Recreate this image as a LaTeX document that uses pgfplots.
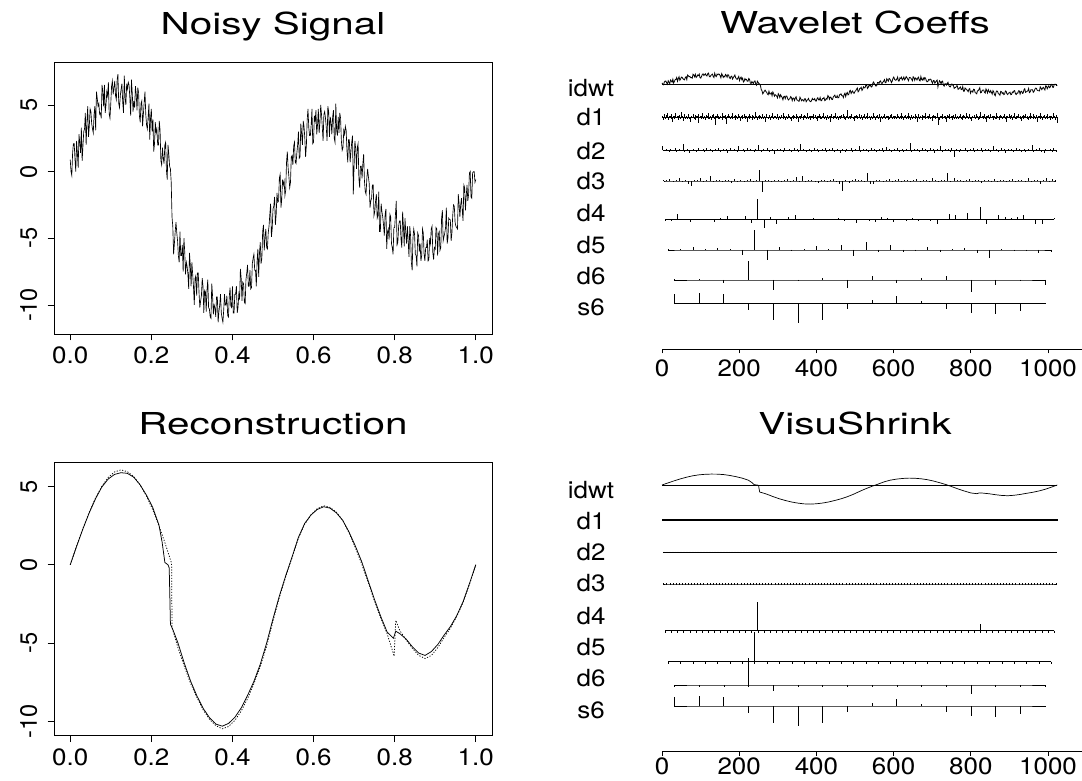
\documentclass[border=0pt]{standalone}
\usepackage{fontspec}
\usepackage{pgfplots}
\usepackage{pgfplotstable}
\pgfplotsset{compat=1.18}
\newfontfamily\stretchsans[FakeStretch=1.1]{TeX Gyre Heros}
\newfontfamily\plainsans{TeX Gyre Heros}
\newfontfamily\titlesans[FakeStretch=1.34]{TeX Gyre Heros}
\newcommand\tickfont{\stretchsans\fontsize{23.6}{28}\selectfont}
\newcommand\ytickfont{\plainsans\fontsize{23.6}{28}\selectfont}
\newcommand\titlefont{\titlesans\fontsize{30.2}{36}\selectfont}
\setmainfont{TeX Gyre Heros}

% noisy signal, 511 samples on [0,1]
\pgfplotstableread[row sep=\\]{v\\
0.9\\0.0\\-0.3\\1.4\\2.1\\2.1\\0.9\\0.0\\2.3\\1.4\\0.3\\2.8\\2.2\\1.4\\3.3\\0.8\\1.9\\3.0\\3.2\\4.4\\2.0\\3.7\\4.9\\2.6\\3.4\\4.7\\4.5\\3.6\\3.2\\2.9\\4.3\\4.9\\
3.1\\6.0\\5.5\\4.9\\5.1\\4.3\\4.4\\4.0\\6.5\\6.0\\4.9\\6.5\\4.4\\5.0\\6.0\\5.7\\6.7\\4.3\\4.0\\5.1\\6.4\\6.8\\5.8\\6.3\\6.8\\5.7\\5.4\\6.9\\7.3\\5.1\\4.8\\5.7\\
6.2\\6.6\\5.2\\4.4\\7.2\\5.5\\5.0\\6.6\\6.2\\6.7\\6.5\\5.5\\4.2\\6.9\\5.9\\4.5\\5.3\\4.8\\6.4\\5.8\\4.6\\6.3\\5.9\\4.2\\3.7\\5.1\\5.3\\3.4\\4.3\\5.2\\6.0\\4.3\\
3.5\\3.2\\4.1\\5.1\\2.4\\4.0\\4.7\\3.0\\3.9\\1.5\\2.1\\3.7\\2.9\\3.2\\2.0\\2.0\\3.8\\3.1\\0.8\\0.5\\1.8\\1.0\\0.6\\2.0\\2.2\\0.1\\-0.6\\2.0\\1.3\\0.4\\0.2\\-0.8\\
-3.4\\-4.1\\-6.2\\-5.4\\-4.5\\-3.8\\-4.6\\-5.2\\-6.3\\-6.8\\-4.5\\-6.3\\-6.3\\-5.5\\-7.5\\-5.0\\-6.0\\-7.7\\-6.8\\-7.1\\-7.7\\-8.8\\-6.1\\-7.0\\-8.6\\-6.8\\-7.7\\-8.6\\-10.0\\-8.0\\-7.8\\-9.3\\
-7.6\\-7.6\\-9.1\\-10.2\\-9.7\\-9.3\\-8.0\\-8.6\\-10.6\\-8.9\\-9.0\\-10.5\\-8.9\\-8.1\\-10.2\\-10.3\\-10.9\\-11.0\\-8.4\\-9.3\\-10.7\\-10.0\\-10.2\\-10.9\\-9.4\\-9.4\\-11.3\\-10.5\\-10.0\\-9.2\\-10.6\\-11.0\\
-11.3\\-10.4\\-9.2\\-10.0\\-10.0\\-9.3\\-10.8\\-10.9\\-9.4\\-8.7\\-10.1\\-10.2\\-8.6\\-10.6\\-10.6\\-9.2\\-9.2\\-8.6\\-10.6\\-10.2\\-9.2\\-9.6\\-7.3\\-8.0\\-9.7\\-8.3\\-8.4\\-9.8\\-9.9\\-8.1\\-7.6\\-7.0\\
-8.6\\-8.6\\-7.4\\-8.8\\-8.7\\-6.9\\-6.5\\-6.2\\-7.4\\-7.4\\-8.6\\-6.7\\-5.8\\-7.9\\-6.1\\-5.3\\-6.9\\-6.5\\-4.5\\-4.0\\-5.9\\-4.9\\-4.3\\-5.7\\-5.8\\-4.6\\-4.1\\-3.2\\-2.4\\-4.9\\-4.3\\-2.8\\
-2.6\\-1.9\\-4.0\\-3.2\\-1.6\\-2.3\\-2.2\\-0.5\\-0.2\\-2.7\\-2.1\\-0.6\\-1.0\\-0.7\\-1.8\\-1.4\\0.7\\1.5\\0.3\\-0.4\\-1.2\\-0.8\\1.1\\1.2\\0.5\\1.9\\2.2\\0.7\\0.6\\1.4\\2.0\\3.0\\
1.0\\1.1\\3.6\\2.8\\2.0\\3.8\\3.4\\2.5\\1.1\\2.0\\3.9\\4.7\\3.3\\2.7\\2.7\\3.5\\4.7\\2.1\\2.2\\4.2\\3.8\\4.6\\2.8\\3.5\\4.7\\2.9\\3.6\\5.0\\4.3\\3.3\\2.3\\4.3\\
4.5\\4.0\\3.3\\2.3\\4.9\\4.5\\2.6\\4.1\\3.7\\2.8\\4.1\\4.6\\2.5\\2.2\\5.1\\3.1\\2.7\\4.1\\2.9\\4.4\\4.0\\2.3\\1.6\\1.8\\3.1\\2.8\\3.4\\3.1\\1.6\\0.7\\2.4\\2.4\\
0.7\\1.5\\2.2\\2.7\\-1.7\\0.5\\2.3\\1.7\\0.2\\1.8\\2.1\\-0.5\\-1.2\\0.4\\0.4\\-0.5\\0.6\\1.3\\-0.7\\-1.5\\-1.7\\-0.5\\0.2\\-0.4\\-0.9\\-2.7\\-2.2\\-2.0\\-1.0\\-1.0\\-3.3\\-3.0\\
-2.2\\-1.7\\-3.5\\-3.3\\-1.5\\-4.5\\-4.5\\-2.4\\-3.0\\-3.4\\-4.0\\-4.8\\-3.2\\-2.8\\-5.8\\-4.5\\-4.3\\-5.1\\-3.2\\-3.4\\-5.4\\-5.7\\-6.2\\-4.2\\-4.2\\-3.2\\-2.2\\-5.5\\-5.3\\-4.1\\-3.7\\-3.7\\
-5.1\\-5.7\\-3.0\\-4.1\\-5.6\\-3.5\\-4.6\\-5.4\\-4.1\\-5.2\\-6.4\\-4.1\\-4.8\\-6.8\\-7.4\\-5.0\\-4.3\\-4.7\\-6.2\\-6.3\\-7.1\\-4.6\\-4.8\\-6.0\\-5.4\\-6.7\\-6.3\\-4.3\\-4.6\\-6.2\\-6.7\\-5.7\\
-5.7\\-5.1\\-6.7\\-6.6\\-5.0\\-5.4\\-4.3\\-4.1\\-6.1\\-6.6\\-5.7\\-5.8\\-4.2\\-4.3\\-6.3\\-4.7\\-4.5\\-5.9\\-5.7\\-3.5\\-2.9\\-5.2\\-4.9\\-4.6\\-4.2\\-2.7\\-5.4\\-5.0\\-3.5\\-3.6\\-3.6\\-5.2\\
-4.6\\-3.3\\-2.5\\-2.6\\-3.8\\-4.1\\-4.2\\-4.3\\-1.7\\-2.4\\-3.4\\-2.5\\-2.0\\-2.9\\-3.7\\-1.0\\-1.2\\-2.9\\-1.8\\-1.0\\-2.2\\-1.7\\-0.1\\0.0\\-1.9\\-2.0\\-0.1\\0.0\\0.0\\-0.8\\-0.6\\
}\noisy

\pgfplotstableread[row sep=\\]{t y\\
0 0\\ 0.0156 1.17\\ 0.0313 2.30\\ 0.0469 3.33\\ 0.0625 4.24\\ 0.0781 4.99\\ 0.0938 5.50\\ 0.1094 5.79\\
0.125 5.90\\ 0.1406 5.86\\ 0.1563 5.62\\ 0.1719 5.14\\ 0.1875 4.48\\ 0.2031 3.70\\ 0.2188 2.55\\ 0.2266 1.45\\
0.2334 0.15\\ 0.2412 0.0\\ 0.2441 -0.2\\ 0.2471 -3.8\\ 0.2539 -4.2\\ 0.2656 -5.0\\ 0.2813 -6.3\\ 0.2969 -7.45\\
0.3125 -8.4\\ 0.3281 -9.2\\ 0.3438 -9.8\\ 0.3594 -10.2\\ 0.375 -10.33\\ 0.3906 -10.15\\ 0.4063 -9.75\\ 0.4219 -9.15\\
0.4375 -8.35\\ 0.4531 -7.45\\ 0.4688 -6.35\\ 0.4844 -5.0\\ 0.5 -3.45\\ 0.5156 -2.0\\ 0.5313 -0.7\\ 0.5469 0.5\\
0.5625 1.75\\ 0.5781 2.65\\ 0.5938 3.2\\ 0.6094 3.55\\ 0.625 3.72\\ 0.6406 3.63\\ 0.6563 3.33\\ 0.6719 2.85\\
0.6875 2.1\\ 0.7031 1.2\\ 0.7188 0.2\\ 0.7344 -1.0\\ 0.75 -2.2\\ 0.7656 -3.3\\ 0.7813 -4.3\\ 0.7969 -4.7\\
0.8027 -4.25\\ 0.8125 -4.4\\ 0.8281 -4.75\\ 0.8438 -5.25\\ 0.8594 -5.65\\ 0.875 -5.8\\ 0.8906 -5.55\\ 0.9063 -5.1\\
0.9219 -4.5\\ 0.9375 -3.95\\ 0.9531 -3.25\\ 0.9688 -2.35\\ 0.9844 -1.2\\ 1 0\\
}\recon

\pgfplotstableread[row sep=\\]{t y\\
0 0\\ 0.0156 1.2\\ 0.0313 2.33\\ 0.0469 3.37\\ 0.0625 4.28\\ 0.0781 5.03\\ 0.0938 5.6\\ 0.1094 5.95\\
0.125 6.08\\ 0.1406 5.97\\ 0.1563 5.66\\ 0.1719 5.14\\ 0.1875 4.43\\ 0.2031 3.55\\ 0.2188 2.5\\ 0.2344 1.35\\
0.2461 0.4\\ 0.25 0.1\\ 0.251 -4.0\\ 0.2656 -5.3\\ 0.2813 -6.5\\ 0.2969 -7.6\\ 0.3125 -8.5\\ 0.3281 -9.3\\
0.3438 -9.9\\ 0.3594 -10.3\\ 0.375 -10.5\\ 0.3906 -10.35\\ 0.4063 -9.95\\ 0.4219 -9.35\\ 0.4375 -8.55\\ 0.4531 -7.6\\
0.4688 -6.5\\ 0.4844 -5.2\\ 0.5 -3.6\\ 0.5156 -2.1\\ 0.5313 -0.75\\ 0.5469 0.45\\ 0.5625 1.7\\ 0.5781 2.6\\
0.5938 3.2\\ 0.6094 3.6\\ 0.625 3.78\\ 0.6406 3.68\\ 0.6563 3.37\\ 0.6719 2.85\\ 0.6875 2.05\\ 0.7031 1.1\\
0.7188 0.05\\ 0.7344 -1.1\\ 0.75 -2.3\\ 0.7656 -3.4\\ 0.7813 -4.4\\ 0.7988 -5.85\\ 0.8027 -3.55\\ 0.8125 -4.2\\
0.8281 -4.8\\ 0.8438 -5.35\\ 0.8594 -5.8\\ 0.875 -6.0\\ 0.8906 -5.8\\ 0.9063 -5.3\\ 0.9219 -4.65\\ 0.9375 -4.05\\
0.9531 -3.3\\ 0.9688 -2.4\\ 0.9844 -1.25\\ 1 0\\
}\truesig

% wavelet coefficients (heights in pixels of the top-right panel)
\pgfplotstableread[row sep=\\]{v\\
1\\-2\\0.5\\2\\-1\\1.5\\-0.5\\3\\-2\\1\\0.5\\-1.5\\2\\-3\\1\\0.5\\-1\\2.5\\-0.5\\1\\-2\\0.5\\1.5\\-1\\3.5\\-0.5\\1\\-2.5\\0.5\\2\\-1\\1\\-1.5\\0.5\\2\\-1\\-3\\1\\0.5\\-0.5\\2\\-1\\1.5\\-2\\0.5\\1\\-4\\2\\-0.5\\1\\-1\\0.5\\2.5\\-1.5\\1\\-0.5\\-2\\1.5\\0.5\\-1\\3\\-1\\0.5\\-2\\
1.5\\-0.5\\2\\-1\\0.5\\-5\\1\\2\\-1.5\\0.5\\-1\\1\\-0.5\\2.5\\-2\\0.5\\1\\-1\\1.5\\-4.5\\0.5\\2\\-0.5\\1\\-1.5\\0.5\\3\\-1\\-0.5\\1\\-2\\1.5\\0.5\\-1\\2\\-0.5\\1\\-2.5\\0.5\\1.5\\-1\\-0.5\\2\\-1.5\\1\\0.5\\-3\\1\\2\\-1\\0.5\\-0.5\\1.5\\-2\\1\\-1\\3.5\\-0.5\\0.5\\-2\\1\\1.5\\-1\\0.5\\
-1.5\\2\\0.5\\-1\\1\\-3.5\\0.5\\2\\-0.5\\-1\\1.5\\0.5\\-2\\1\\-0.5\\2.5\\-1\\0.5\\1\\-1.5\\-0.5\\2\\-2\\1\\0.5\\-1\\1.5\\-0.5\\3\\-1\\0.5\\-2\\1\\0.5\\-1.5\\2\\-0.5\\1\\-1\\-2.5\\0.5\\1.5\\-1\\1\\-0.5\\2\\-1.5\\0.5\\-3\\1\\0.5\\-1\\2\\-0.5\\1\\-2\\1.5\\0.5\\-1\\-0.5\\2.5\\-1.5\\1\\0.5\\
-2\\1\\0.5\\-1\\2\\-0.5\\1.5\\-1\\0.5\\-2.5\\1\\2\\-1\\0.5\\-1.5\\1\\-0.5\\3\\-1\\0.5\\-2\\1.5\\0.5\\-1\\1\\-3\\0.5\\2\\-0.5\\1\\-1.5\\0.5\\2.5\\-1\\-0.5\\1\\-2\\1\\0.5\\-1\\1.5\\-0.5\\2\\-1\\0.5\\-2\\1\\-0.5\\4.5\\-1\\0.5\\-1.5\\1\\2\\-0.5\\-1\\1\\-2.5\\0.5\\1.5\\-1\\0.5\\-0.5\\2\\
-1\\0.5\\1.5\\-2\\1\\-0.5\\2\\-1\\0.5\\-1.5\\3\\-0.5\\1\\-2\\0.5\\1\\-1\\2.5\\-0.5\\0.5\\-2\\1\\1.5\\-1\\-0.5\\2\\-3\\1\\0.5\\-1\\1\\-0.5\\2\\-1.5\\0.5\\1\\-2\\0.5\\-1\\1.5\\-0.5\\2\\-1\\0.5\\-1.5\\1\\0.5\\-1\\2\\-0.5\\1\\-1.5\\0.5\\2.5\\-1\\0.5\\-2\\1\\-0.5\\1.5\\-1\\0.5\\3\\-1\\
0.5\\-2\\1\\1.5\\-1\\0.5\\-0.5\\2\\-1.5\\1\\-3\\0.5\\2\\-1\\0.5\\-0.5\\1.5\\-2\\1\\0.5\\-1\\2.5\\-0.5\\1\\-1.5\\0.5\\2\\-1\\-0.5\\1\\-2.5\\1.5\\0.5\\-1\\1\\-0.5\\3\\-1\\-5.5\\-2\\1\\0.5\\-1.5\\2\\-0.5\\1\\-1\\0.5\\-3.5\\1.5\\0.5\\-1\\2\\-0.5\\1\\-2\\0.5\\1.5\\-1\\-0.5\\2\\-1\\0.5\\-1.5\\
1\\-0.5\\2\\-1\\0.5\\-2\\1.5\\0.5\\-1\\3\\-0.5\\1\\-1.5\\0.5\\2\\-1\\-2.5\\1\\0.5\\-0.5\\1.5\\-1\\2\\-0.5\\0.5\\-2\\1\\-1\\3.5\\-0.5\\1\\-1.5\\0.5\\2\\-1\\0.5\\-3\\1\\1.5\\-0.5\\-1\\2\\-0.5\\1\\-2\\0.5\\1\\-1\\2.5\\-1.5\\0.5\\-0.5\\1\\-2\\1.5\\0.5\\-1\\1\\-0.5\\2\\-1\\-3\\0.5\\1\\
-0.5\\2\\-1\\0.5\\1.5\\-2\\1\\-0.5\\3\\-1\\0.5\\-1.5\\1\\2\\-0.5\\-1\\1\\-2.5\\0.5\\1.5\\-1\\0.5\\2\\-0.5\\-1.5\\1\\-2\\0.5\\3\\-1\\1\\-0.5\\2\\-1.5\\0.5\\-1\\1.5\\-0.5\\-3\\1\\0.5\\2.5\\-1\\0.5\\-2\\1\\-0.5\\1.5\\-1\\0.5\\2\\-1.5\\-0.5\\1\\-2\\0.5\\1\\-1\\3\\-0.5\\0.5\\-2\\1.5\\-4\\
}\done

\pgfplotstableread[row sep=\\]{v\\
3\\-0.5\\1\\0.5\\-1\\1\\0.5\\-0.5\\2\\-1\\0.5\\1\\-0.5\\5\\-1\\0.5\\1\\-2\\0.5\\-0.5\\1\\0.5\\-1\\1.5\\-0.5\\0.5\\1\\-1\\2\\0.5\\-0.5\\1\\-1.5\\0.5\\1\\-0.5\\2\\-1\\0.5\\1\\-0.5\\1\\-2\\0.5\\1.5\\-0.5\\1\\0.5\\-1\\3\\0.5\\-0.5\\1\\-1\\0.5\\2\\-0.5\\1\\0.5\\-1\\1\\-0.5\\4\\0.5\\
-1\\1\\0.5\\-0.5\\1.5\\-1\\0.5\\1\\-2.5\\0.5\\1\\-0.5\\1\\0.5\\-1\\2\\-0.5\\0.5\\1\\-1\\0.5\\1.5\\-0.5\\1\\-1\\4.5\\-0.5\\1\\0.5\\-1\\0.5\\1\\-1.5\\0.5\\2\\-0.5\\1\\-1\\0.5\\1\\-0.5\\1.5\\-1\\0.5\\1\\-0.5\\2\\-1\\0.5\\1\\-0.5\\-2\\1\\0.5\\-1\\1\\0.5\\-0.5\\1.5\\-1\\0.5\\1\\-0.5\\3\\
-1\\0.5\\1\\-0.5\\1\\-1.5\\0.5\\2\\-0.5\\1\\-1\\0.5\\1\\-0.5\\1.5\\-1\\0.5\\2.5\\-0.5\\1\\-1\\0.5\\1\\-0.5\\2\\-1\\0.5\\1\\-1.5\\0.5\\1\\-0.5\\5.5\\-1\\0.5\\1\\-0.5\\1\\-1\\0.5\\2\\-0.5\\1\\-1\\0.5\\1.5\\-0.5\\1\\-2\\0.5\\1\\-0.5\\3\\-1\\0.5\\1\\-0.5\\1\\-1\\2\\0.5\\-5\\1\\0.5\\
-1\\1\\0.5\\-0.5\\2\\-1\\0.5\\1\\-0.5\\1.5\\-1\\0.5\\1\\-0.5\\2\\-1.5\\0.5\\1\\-0.5\\1\\-1\\0.5\\3.5\\-0.5\\1\\-1\\0.5\\1.5\\-0.5\\1\\-2\\0.5\\1\\-0.5\\1\\-1\\0.5\\2\\-0.5\\1\\-1\\0.5\\1\\-1.5\\0.5\\1\\-0.5\\4\\-1\\0.5\\1\\-0.5\\1.5\\-1\\0.5\\-2\\1\\0.5\\-0.5\\1\\-1\\2\\0.5\\-1\\
}\dtwo

\pgfplotstableread[row sep=\\]{v\\
1\\0.5\\2\\-0.5\\1\\3\\-1\\1\\-2.5\\-4\\0.5\\1\\2.5\\-1\\0.5\\4\\-0.5\\1\\0.5\\-1\\1\\0.5\\-1.5\\2\\-0.5\\1\\-1\\0.5\\1.5\\-1\\0.5\\9.5\\
-9.5\\0.5\\1\\-0.5\\0.5\\1\\-0.5\\0.5\\2\\-1\\0.5\\3.5\\-0.5\\4\\-1\\0.5\\1\\-0.5\\-2\\1\\0.5\\-1\\0.5\\2\\-0.5\\-3\\-8.5\\1\\-1.5\\0.5\\2\\0.5\\
1\\-0.5\\7\\-3\\-2.5\\0.5\\1\\-0.5\\0.5\\1.5\\-1\\0.5\\2\\-0.5\\0.5\\1\\-1\\0.5\\2\\-0.5\\1\\0.5\\-1\\2.5\\0.5\\-0.5\\1\\0.5\\7\\-1\\3\\0.5\\
0.5\\-1\\1\\2\\-0.5\\1\\0.5\\-1.5\\1\\0.5\\-0.5\\2\\-1\\0.5\\1\\-0.5\\0.5\\1.5\\-1\\0.5\\1\\-0.5\\2.5\\-1\\0.5\\1\\-2.5\\0.5\\3\\-1\\2\\0.5\\
}\dthree

\pgfplotstableread[row sep=\\]{v\\
-2\\-1.5\\5\\0.5\\-2.5\\0.5\\-1\\0.5\\-3\\1\\3\\0.5\\0.5\\3.5\\-4\\20\\
-9\\2\\-5\\0.5\\2.5\\4.5\\0.5\\-0.5\\1\\0.5\\0.5\\-1\\1\\-2\\0.5\\-4\\
0.5\\-1.5\\-3\\2\\1.5\\-3\\0.5\\-2\\1\\-1.5\\0.5\\-2\\-5\\0.5\\5\\4.5\\
0.5\\6\\0.5\\12\\-5\\-1\\4\\2\\1\\2\\4\\0.5\\-5\\-4.5\\0.5\\1\\
}\dfour

\pgfplotstableread[row sep=\\]{v\\
1\\1\\3\\1\\2\\1\\-5\\20\\-10\\3\\-1\\1\\4\\1\\5\\-6\\8\\-2\\4.5\\-2\\-1\\3\\-2\\0.5\\2\\-3\\-8\\1\\-1\\-1.5\\-3\\-2\\
}\dfive

\pgfplotstableread[row sep=\\]{v\\
0.5\\1\\-3\\19\\-10\\-1\\2\\-8.5\\4\\-3\\1.5\\4\\-12\\-5\\-1\\-5\\
}\dsix

\pgfplotstableread[row sep=\\]{v\\
9\\10\\9\\-6.5\\-17\\-19.5\\-16.5\\-6\\3.5\\7\\2.5\\-6\\-9.5\\-11\\-8\\0.5\\
}\ssix

% VisuShrink (thresholded) coefficients, heights in pixels of the bottom-right panel
\pgfplotstableread[row sep=\\]{v\\
0\\0\\0\\0\\0\\0\\0\\0\\0\\0\\0\\0\\0\\0\\0\\29\\
0\\0\\0\\0\\0\\0\\0\\0\\0\\0\\0\\0\\0\\0\\0\\0\\
0\\0\\0\\0\\0\\0\\0\\0\\0\\0\\0\\0\\0\\0\\0\\0\\
0\\0\\0\\6.5\\0\\0\\0\\0\\0\\0\\0\\0\\0\\0\\0\\0\\
}\dfourb

\pgfplotstableread[row sep=\\]{v\\
0\\0\\0\\0\\0\\0\\0\\30\\0\\0\\0\\0\\0\\0\\0\\0\\0\\0\\0\\0\\0\\0\\0\\0\\0\\0\\0\\0\\0\\0\\0\\0\\
}\dfiveb

\pgfplotstableread[row sep=\\]{v\\
0\\0\\0\\27\\-5.5\\0\\0\\-2\\0\\0\\0\\0\\-9\\0\\0\\0\\
}\dsixb

\pgfplotsset{
  leftpanel/.style={
    anchor=south west, scale only axis, width=438pt,
    xmin=-0.04, xmax=1.04,
    axis line style={line width=0.8pt},
    tick align=outside, xtick pos=bottom, ytick pos=left,
    major tick length=6.5pt,
    tick style={black, line width=0.8pt},
    xtick={0,0.2,0.4,0.6,0.8,1}, xticklabels={0.0,0.2,0.4,0.6,0.8,1.0},
    ytick={-10,-5,0,5}, yticklabels={-10,-5,0,5},
    xticklabel style={font=\tickfont, anchor=north, inner sep=0pt},
    yticklabel style={font=\ytickfont, rotate=90, anchor=south, inner sep=0pt},
    xticklabel shift=6.5pt, yticklabel shift=10pt,
  },
  rightpanel/.style={
    anchor=south west, scale only axis, width=420pt,
    xmin=0, xmax=1088,
    axis x line=bottom, axis y line=none,
    axis line style={-, line width=0.8pt},
    tick align=outside, major tick length=4.5pt,
    tick style={black, line width=0.8pt},
    xtick={0,200,400,600,800,1000}, xticklabels={0,200,400,600,800,1000},
    xticklabel style={font=\tickfont, anchor=north, inner sep=0pt},
    xticklabel shift=6pt,
    clip=false,
  },
  spike/.style={black, line width=0.6pt, quiver={u=0, v=#1*\thisrow{v}}},
  spike/.default=1,
  base/.style={black, line width=0.6pt},
}

\begin{document}
\begin{tikzpicture}
\path[use as bounding box] (0,0) rectangle (1082pt,780pt);

% titles
\node[anchor=base] at (273pt,745pt) {\titlefont Noisy Signal};
\node[anchor=base] at (855pt,746.7pt) {\titlefont Wavelet Coeffs};
\node[anchor=base] at (273pt,345pt) {\titlefont Reconstruction};
\node[anchor=base] at (855pt,345pt) {\titlefont VisuShrink};

% row labels
\foreach \lab/\yy in {idwt/683.3, d1/654, d2/620.7, d3/590, d4/558.3, d5/526.7, d6/495, s6/464,
                      idwt/281.7, d1/250.7, d2/219.3, d3/188.3, d4/156, d5/125, d6/93.3, s6/61.7}
  \node[anchor=base] at (591pt,\yy pt) {\tickfont \lab};

% ---------- Noisy Signal ----------
\begin{axis}[leftpanel, at={(54pt,446pt)}, height=272pt, ymin=-12.18, ymax=8.22]
\addplot[black, line width=0.65pt] table[x=v, y=v, x expr=\coordindex/510]{\noisy};
\end{axis}

% ---------- Reconstruction ----------
\begin{axis}[leftpanel, at={(54pt,44.3pt)}, height=273pt, ymin=-10.94, ymax=6.54]
\addplot[black, line width=0.75pt, dash pattern=on 1.2pt off 1.6pt] table[x=t, y=y]{\truesig};
\addplot[black, line width=0.75pt] table[x=t, y=y]{\recon};
\end{axis}

% ---------- Wavelet Coeffs ----------
\begin{axis}[rightpanel, at={(662pt,431pt)}, height=288pt, ymin=-349, ymax=-61]
\addplot[base] coordinates {(0,-84.3) (1024,-84.3)};
\addplot[black, line width=0.8pt] table[x=v, y=v, x expr=\coordindex*1024/510, y expr=-84.3+1.54*\thisrow{v}]{\noisy};
\addplot[base] table[x=v, y=v, x expr=2*\coordindex+1, y expr=-117.2]{\done};
\addplot[spike=1.5] table[x=v, y=v, x expr=2*\coordindex+1, y expr=-117.2]{\done};
\addplot[base] table[x=v, y=v, x expr=4*\coordindex+2, y expr=-150.3]{\dtwo};
\addplot[spike=1.3] table[x=v, y=v, x expr=4*\coordindex+2, y expr=-150.3]{\dtwo};
\addplot[base] table[x=v, y=v, x expr=8*\coordindex+4, y expr=-181]{\dthree};
\addplot[spike=1.15] table[x=v, y=v, x expr=8*\coordindex+4, y expr=-181]{\dthree};
\addplot[base] table[x=v, y=v, x expr=16*\coordindex+8, y expr=-219.3]{\dfour};
\addplot[spike] table[x=v, y=v, x expr=16*\coordindex+8, y expr=-219.3]{\dfour};
\addplot[base] table[x=v, y=v, x expr=32*\coordindex+16, y expr=-250]{\dfive};
\addplot[spike] table[x=v, y=v, x expr=32*\coordindex+16, y expr=-250]{\dfive};
\addplot[base] table[x=v, y=v, x expr=64*\coordindex+32, y expr=-280]{\dsix};
\addplot[spike] table[x=v, y=v, x expr=64*\coordindex+32, y expr=-280]{\dsix};
\addplot[base] table[x=v, y=v, x expr=64*\coordindex+32, y expr=-303.5]{\ssix};
\addplot[spike] table[x=v, y=v, x expr=64*\coordindex+32, y expr=-303.5]{\ssix};
\end{axis}

% ---------- VisuShrink ----------
\begin{axis}[rightpanel, xticklabel shift=2.5pt, at={(662pt,29pt)}, height=290pt, ymin=-751, ymax=-461]
\addplot[base] coordinates {(0,-485) (1024,-485)};
\addplot[black, line width=0.7pt] table[x=t, y=y, x expr=\thisrow{t}*1024, y expr=-485+1.85*\thisrow{y}]{\recon};
\addplot[base, line width=0.5pt] table[x=v, y=v, x expr=2*\coordindex+1, y expr=-520]{\done};
\addplot[black, only marks, mark=|, mark size=0.8pt, mark options={line width=0.35pt}] table[x=v, y=v, x expr=2*\coordindex+1, y expr=-520]{\done};
\addplot[base, line width=0.5pt] table[x=v, y=v, x expr=4*\coordindex+2, y expr=-552.7]{\dtwo};
\addplot[black, only marks, mark=|, mark size=0.7pt, mark options={line width=0.35pt}] table[x=v, y=v, x expr=4*\coordindex+2, y expr=-552.7]{\dtwo};
\addplot[black, only marks, mark=|, mark size=0.6pt, mark options={line width=0.4pt}] table[x=v, y=v, x expr=8*\coordindex+4, y expr=-584]{\dthree};
\addplot[base, line width=0.3pt] table[x=v, y=v, x expr=8*\coordindex+4, y expr=-584]{\dthree};
\addplot[base] table[x=v, y=v, x expr=16*\coordindex+8, y expr=-630.7]{\dfourb};
\addplot[black, only marks, mark=|, mark size=0.9pt, mark options={yshift=-0.9pt, line width=0.4pt}] table[x=v, y=v, x expr=16*\coordindex+8, y expr=-630.7]{\dfourb};
\addplot[spike] table[x=v, y=v, x expr=16*\coordindex+8, y expr=-630.7]{\dfourb};
\addplot[base] table[x=v, y=v, x expr=32*\coordindex+16, y expr=-661.7]{\dfiveb};
\addplot[black, only marks, mark=|, mark size=0.9pt, mark options={yshift=-0.9pt, line width=0.4pt}] table[x=v, y=v, x expr=32*\coordindex+16, y expr=-661.7]{\dfiveb};
\addplot[spike] table[x=v, y=v, x expr=32*\coordindex+16, y expr=-661.7]{\dfiveb};
\addplot[base] table[x=v, y=v, x expr=64*\coordindex+32, y expr=-685]{\dsixb};
\addplot[black, only marks, mark=|, mark size=0.9pt, mark options={yshift=-0.9pt, line width=0.4pt}] table[x=v, y=v, x expr=64*\coordindex+32, y expr=-685]{\dsixb};
\addplot[spike] table[x=v, y=v, x expr=64*\coordindex+32, y expr=-685]{\dsixb};
\addplot[base] table[x=v, y=v, x expr=64*\coordindex+32, y expr=-706]{\ssix};
\addplot[spike] table[x=v, y=v, x expr=64*\coordindex+32, y expr=-706]{\ssix};
\end{axis}
\end{tikzpicture}
\end{document}
